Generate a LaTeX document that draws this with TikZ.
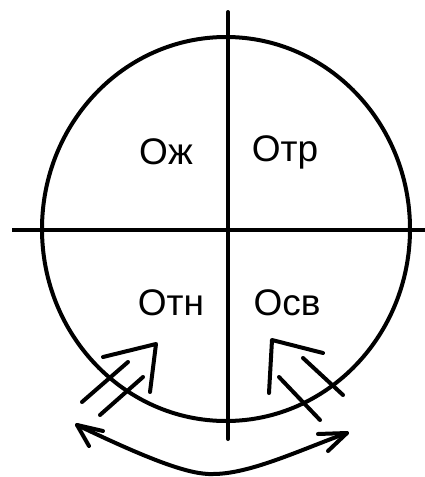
\documentclass[tikz,border=0pt]{standalone}
\usepackage{fontspec}
\setmainfont{Liberation Sans}
\begin{document}
\begin{tikzpicture}[x=1pt,y=-1pt,
  stroke/.style={line width=4pt,line cap=round,line join=round},
  lbl/.style={font=\fontsize{37}{40}\selectfont,inner sep=0pt,anchor=center}]
\useasboundingbox (0,0) rectangle (425,477);
% ellipse-ish circle
\coordinate (c) at (226,229);
\draw[stroke] (c) ellipse [x radius=184, y radius=192];
% axes
\coordinate (vt) at (228,12);
\coordinate (vb) at (228,439);
\coordinate (hl) at (12,230);
\coordinate (hr) at (425,230);
\draw[stroke] (vt) -- (vb);
\draw[stroke,line cap=butt] (hl) -- (hr);
% labels
\node[lbl] (ozh) at (166,152) {Ож};
\node[lbl] (otr) at (285,152) {Отр};
\node[lbl] (otn) at (171,303) {О\textsc{тн}};
\node[lbl] (osv) at (287,303) {О\textsc{св}};
% left arrow
\coordinate (la1) at (103,357);
\coordinate (lat) at (156,344);
\coordinate (la2) at (150,392);
\draw[stroke] (la1) -- (lat) -- (la2);
\coordinate (ls1a) at (82,402);  \coordinate (ls1b) at (128,362);
\coordinate (ls2a) at (100,415); \coordinate (ls2b) at (143,377);
\draw[stroke] (ls1a) -- (ls1b);
\draw[stroke] (ls2a) -- (ls2b);
% right arrow
\coordinate (ra1) at (269,393);
\coordinate (rat) at (272,340);
\coordinate (ra2) at (323,353);
\draw[stroke] (ra1) -- (rat) -- (ra2);
\coordinate (rs1a) at (303,358); \coordinate (rs1b) at (343,395);
\coordinate (rs2a) at (279,377); \coordinate (rs2b) at (320,420);
\draw[stroke] (rs1a) -- (rs1b);
\draw[stroke] (rs2a) -- (rs2b);
% bottom double arrow
\coordinate (bl) at (77,425);
\coordinate (bm) at (213,474);
\coordinate (br) at (347,433);
\draw[stroke] (bl) .. controls (150,460) and (190,475) .. (bm) .. controls (250,474) and (300,450) .. (br);
\coordinate (blh1) at (103,431); \coordinate (blh2) at (89,446);
\draw[stroke] (blh1) -- (bl) -- (blh2);
\coordinate (brh1) at (318,434); \coordinate (brh2) at (328,451);
\draw[stroke] (brh1) -- (br) -- (brh2);
\end{tikzpicture}
\end{document}
